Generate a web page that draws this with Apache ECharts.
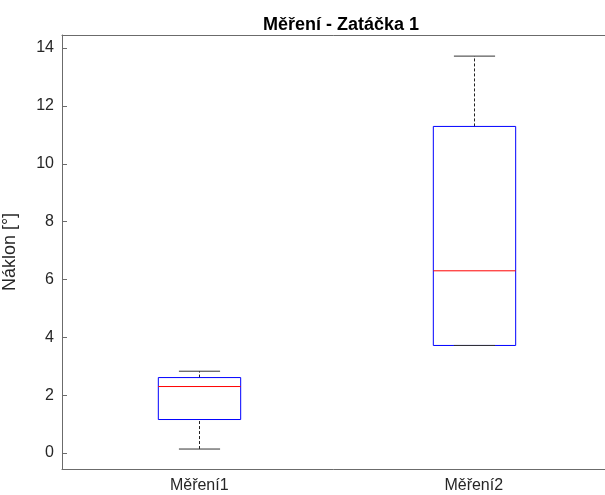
<!DOCTYPE html>
<html>
<head>
<meta charset="utf-8">
<script src="https://cdn.jsdelivr.net/npm/echarts@6/dist/echarts.min.js"></script>
<style>html,body{margin:0;padding:0;background:#fff}#c{width:605px;height:495px}</style>
</head>
<body>
<div id="c"></div>
<script>
const categories = ['Měření1', 'Měření2'];
const mins = [0.14, 3.72];
const q1s = [1.16, 3.72];
const medians = [2.30, 6.30];
const q3s = [2.61, 11.29];
const maxs = [2.83, 13.72];
const yTicks = [0, 2, 4, 6, 8, 10, 12, 14];

const boxData = categories.map((c, i) => [i, mins[i], q1s[i], medians[i], q3s[i], maxs[i]]);
const FONT = "'Liberation Sans', Arial, Helvetica, sans-serif";
const AX = '#6b6b6b';
const TXT = '#262626';

function renderItem(params, api) {
  const x = api.value(0);
  const bw = api.size([1, 0])[0];
  const hb = bw * 0.15, hc = bw * 0.075;
  const pMin = api.coord([x, api.value(1)]);
  const pQ1 = api.coord([x, api.value(2)]);
  const pMed = api.coord([x, api.value(3)]);
  const pQ3 = api.coord([x, api.value(4)]);
  const pMax = api.coord([x, api.value(5)]);
  const cx = Math.round(pMed[0]) + 0.5;
  const dash = { stroke: '#222', lineWidth: 1, lineDash: [3, 2], fill: null };
  const solid = { stroke: '#333', lineWidth: 1, fill: null };
  return {
    type: 'group',
    children: [
      { type: 'line', shape: { x1: cx, y1: pQ3[1], x2: cx, y2: pMax[1] }, style: dash },
      { type: 'line', shape: { x1: cx, y1: pMin[1], x2: cx, y2: pQ1[1] }, style: dash },
      { type: 'rect', shape: { x: cx - hb, y: pQ3[1], width: 2 * hb, height: pQ1[1] - pQ3[1] },
        style: { stroke: '#0000ff', lineWidth: 1, fill: null } },
      { type: 'line', shape: { x1: cx - hc, y1: pMax[1], x2: cx + hc, y2: pMax[1] }, style: solid },
      { type: 'line', shape: { x1: cx - hc, y1: pMin[1], x2: cx + hc, y2: pMin[1] }, style: solid },
      { type: 'line', shape: { x1: cx - hb, y1: pMed[1], x2: cx + hb, y2: pMed[1] },
        style: { stroke: '#ff0000', lineWidth: 1 } }
    ]
  };
}

const chart = echarts.init(document.getElementById('c'), null, { renderer: 'canvas' });
chart.setOption({
  animation: false,
  backgroundColor: '#fff',
  title: {
    text: 'Měření - Zatáčka 1',
    left: 336, top: 11, textAlign: 'center',
    textStyle: { fontFamily: FONT, fontSize: 18, fontWeight: 'bold', color: '#000' }
  },
  grid: { left: 62, top: 35, width: 549, height: 434, containLabel: false, outerBoundsMode: 'none' },
  xAxis: [{
    type: 'category', data: categories, position: 'bottom',
    axisLine: { onZero: false, lineStyle: { color: AX, width: 1 } },
    axisTick: { inside: true, length: 4, alignWithLabel: true, lineStyle: { color: AX } },
    axisLabel: { fontFamily: FONT, fontSize: 16, color: TXT, margin: 9 },
    splitLine: { show: false }
  }, {
    type: 'category', data: categories, position: 'top',
    axisLine: { onZero: false, lineStyle: { color: AX, width: 1 } },
    axisTick: { inside: true, length: 4, alignWithLabel: true, lineStyle: { color: AX } },
    axisLabel: { show: false },
    splitLine: { show: false }
  }],
  yAxis: [{
    type: 'value', min: -0.55, max: 14.45, position: 'left',
    name: 'Náklon [°]', nameLocation: 'middle', nameGap: 43,
    nameTextStyle: { fontFamily: FONT, fontSize: 18, color: TXT },
    axisLine: { show: true, onZero: false, lineStyle: { color: AX, width: 1 } },
    axisTick: { show: true, inside: true, length: 5, customValues: yTicks, lineStyle: { color: AX } },
    axisLabel: { fontFamily: FONT, fontSize: 16, color: TXT, margin: 8, customValues: yTicks },
    splitLine: { show: false }
  }, {
    type: 'value', min: -0.55, max: 14.45, position: 'right',
    axisLine: { show: false },
    axisTick: { show: false },
    axisLabel: { show: false },
    splitLine: { show: false }
  }],
  series: [{
    type: 'custom',
    renderItem: renderItem,
    encode: { x: 0, y: [1, 2, 3, 4, 5] },
    data: boxData
  }]
});
</script>
</body>
</html>
